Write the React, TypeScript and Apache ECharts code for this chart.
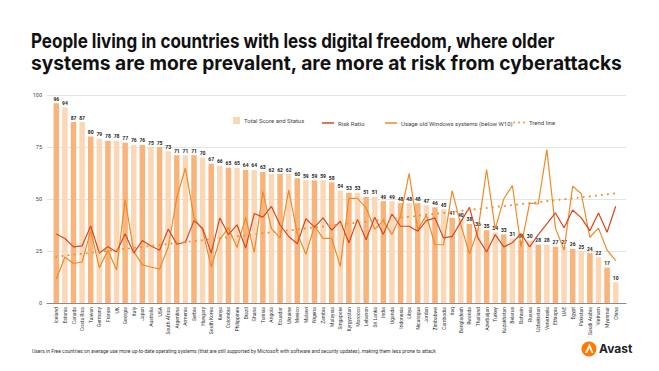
import React, { useEffect, useRef } from "react";
import * as echarts from "echarts";

const categories = [
  "Iceland", "Estonia", "Canada", "Costa Rica", "Taiwan", "Germany", "France", "UK", "Georgia", "Italy",
  "Japan", "Australia", "USA", "South Africa", "Argentina", "Armenia", "Serbia", "Hungary", "South Korea", "Kenya",
  "Colombia", "Philippines", "Brazil", "Ghana", "Tunisia", "Angola", "Ecuador", "Ukraine", "Mexico", "Malawi",
  "Nigeria", "Zambia", "Malaysia", "Singapore", "Kyrgyzstan", "Morocco", "Lebanon", "Sri Lanka", "India", "Uganda",
  "Indonesia", "Libya", "Nicaragua", "Jordan", "Zimbabwe", "Cambodia", "Iraq", "Bangladesh", "Rwanda", "Thailand",
  "Azerbaijan", "Turkey", "Kazakhstan", "Belarus", "Bahrain", "Russia", "Uzbekistan", "Venezuela", "Ethiopia", "UAE",
  "Egypt", "Pakistan", "Saudi Arabia", "Vietnam", "Myanmar", "China",
];

const totalScore = [
  96, 94, 87, 87, 80, 79, 78, 78, 77, 76,
  76, 75, 75, 73, 71, 71, 71, 70, 67, 66,
  65, 65, 64, 64, 63, 62, 62, 62, 60, 59,
  59, 59, 58, 54, 53, 53, 51, 51, 49, 49,
  48, 48, 48, 47, 46, 45, 41, 40, 38, 36,
  35, 34, 33, 31, 30, 30, 28, 28, 27, 27,
  26, 25, 24, 22, 17, 10,
];

const riskRatio = [
  33.2, 31, 27, 27.5, 37, 24, 27, 24.5, 33.3, 24,
  30, 27.4, 25.4, 35.5, 28.3, 29.2, 39.6, 36, 24, 40.9,
  32.9, 37.6, 26.4, 43, 41.3, 46.4, 37.5, 32, 28.5, 40.5,
  36.5, 40.9, 35, 39.3, 29, 40.2, 30.4, 41.2, 33, 42.8,
  36.9, 36.9, 34.5, 39.6, 40.9, 31.3, 32, 39, 46, 31.3,
  24.5, 32.9, 27, 29, 33.3, 27, 32.9, 38, 43.3, 36.2,
  44.7, 40.9, 34.8, 43.3, 34, 46.5,
];

const oldWindowsUsage = [
  11.5, 22.1, 19, 19.7, 34.8, 17, 25.3, 15.9, 49.7, 24.8,
  18.3, 17.3, 16.3, 26.8, 50.6, 64.9, 41, 35, 17.3, 30.5,
  36.3, 26.7, 41.2, 24.3, 53.6, 35.8, 31.3, 54.3, 33.5, 23.4,
  37, 31.1, 31.1, 17.6, 50.3, 50.3, 45.7, 35.5, 39.6, 32.9,
  42, 62.3, 35.3, 42.2, 28, 28, 54, 37.7, 23.6, 35,
  64.2, 35.6, 50.1, 56.5, 27.1, 48, 47.6, 73.7, 36, 25.5,
  56.2, 52.5, 31.6, 36, 25.4, 20.4,
];

// Trend line end points (first and last category)
const trendStart = 22.3;
const trendEnd = 52.7;

const yTicks = [0, 25, 50, 75, 100];

const titleLines = [
  "People living in countries with less digital freedom, where older",
  "systems are more prevalent, are more at risk from cyberattacks",
];
const footnote =
  "Users in Free countries on average use more up-to-date operating systems (that are still supported by Microsoft with software and security updates), making them less prone to attack";

const DARK_BAR = "#f9b47c";
const LIGHT_BAR = "#fcd7b6";
const RISK = "#d9471e";
const USAGE = "#f08a26";
const TREND = "#f0913a";
const FONT = "Roboto, 'Liberation Sans', sans-serif";
const TITLE_FONT = "Inter, 'Open Sans', sans-serif";
const DOTS_ICON =
  "path://M0,1a1,1 0 1,0 2,0a1,1 0 1,0 -2,0zM5,1a1,1 0 1,0 2,0a1,1 0 1,0 -2,0zM10,1a1,1 0 1,0 2,0a1,1 0 1,0 -2,0z";

export default function App() {
  const ref = useRef<HTMLDivElement>(null);

  useEffect(() => {
    if (!ref.current) return;
    const chart = echarts.init(ref.current, null, { renderer: "svg" });
    const last = categories.length - 1;
    const trendData = categories.map((_, i) => (i === 0 ? trendStart : i === last ? trendEnd : null));

    const legendBase = {
      top: 120,
      padding: 0,
      itemWidth: 12,
      itemHeight: 1.5,
      itemGap: 0,
      textStyle: { fontSize: 6, color: "#444", fontFamily: FONT, padding: [0, 0, 0, -1] },
      selectedMode: false,
    };

    chart.setOption({
      animation: false,
      backgroundColor: "#ffffff",
      textStyle: { fontFamily: FONT },
      legend: [
        { ...legendBase, top: 117, left: 233, data: [{ name: "Total Score and Status", icon: "rect" }], itemWidth: 7, itemHeight: 7 },
        { ...legendBase, left: 322, data: [{ name: "Risk Ratio", icon: "rect" }] },
        { ...legendBase, left: 385, data: [{ name: "Usage old Windows systems (below W10)", icon: "rect" }] },
        { ...legendBase, top: 119.5, left: 513, itemHeight: 2, data: [{ name: "Trend line", icon: DOTS_ICON }] },
      ],
      grid: [
        { left: 47, right: 33, top: 95, bottom: 68 },
        { left: 52, right: 39, top: 95, bottom: 68 },
      ],
      xAxis: [
        {
          gridIndex: 0,
          type: "category",
          data: categories,
          axisLine: { lineStyle: { color: "#8a8a8a", width: 1 } },
          axisTick: { show: false },
          axisLabel: { show: false },
        },
        {
          gridIndex: 1,
          type: "category",
          data: categories,
          axisLine: { show: false },
          axisTick: { show: false },
          axisLabel: { rotate: 90, interval: 0, fontSize: 5, color: "#333", margin: 4, fontFamily: FONT },
        },
      ],
      yAxis: [
        {
          gridIndex: 0,
          type: "value",
          min: yTicks[0],
          max: yTicks[yTicks.length - 1],
          interval: 25,
          axisLine: { show: false },
          axisTick: { show: false },
          axisLabel: { fontSize: 5.5, color: "#444", margin: 5, fontFamily: FONT },
          splitLine: { lineStyle: { color: "#e4e4e4", width: 1 } },
        },
        {
          gridIndex: 1,
          type: "value",
          min: yTicks[0],
          max: yTicks[yTicks.length - 1],
          interval: 25,
          show: false,
          splitLine: { show: false },
        },
      ],
      series: [
        {
          name: "Total Score and Status",
          type: "bar",
          xAxisIndex: 1,
          yAxisIndex: 1,
          barWidth: "64%",
          itemStyle: { color: LIGHT_BAR },
          data: totalScore.map((v, i) => ({ value: v, itemStyle: { color: i % 2 === 0 ? DARK_BAR : LIGHT_BAR } })),
          label: {
            show: true,
            position: "top",
            distance: 2,
            fontSize: 5,
            fontWeight: "bold",
            color: "#222",
            fontFamily: FONT,
          },
          z: 1,
        },
        {
          name: "Risk Ratio",
          type: "line",
          xAxisIndex: 1,
          yAxisIndex: 1,
          data: riskRatio,
          symbol: "none",
          lineStyle: { color: RISK, width: 1.2 },
          itemStyle: { color: RISK },
          z: 4,
        },
        {
          name: "Usage old Windows systems (below W10)",
          type: "line",
          xAxisIndex: 1,
          yAxisIndex: 1,
          data: oldWindowsUsage,
          symbol: "none",
          lineStyle: { color: USAGE, width: 1.2 },
          itemStyle: { color: USAGE },
          z: 3,
        },
        {
          name: "Trend line",
          type: "line",
          xAxisIndex: 1,
          yAxisIndex: 1,
          data: trendData,
          connectNulls: true,
          symbol: "none",
          lineStyle: { color: TREND, width: 2, type: [0.1, 6], cap: "round" },
          itemStyle: { color: TREND },
          z: 5,
        },
      ],
      graphic: [
        {
          type: "text",
          x: 31,
          y: 40,
          scaleX: 0.85,
          style: {
            text: titleLines[0],
            fontSize: 20,
            fontWeight: "bold",
            fontFamily: TITLE_FONT,
            fill: "#111111",
            verticalAlign: "middle",
          },
        },
        {
          type: "text",
          x: 31,
          y: 63,
          scaleX: 0.96,
          style: {
            text: titleLines[1],
            fontSize: 20,
            fontWeight: "bold",
            fontFamily: TITLE_FONT,
            fill: "#111111",
            verticalAlign: "middle",
          },
        },
        {
          type: "text",
          left: 32,
          top: 348,
          style: { text: footnote, fontSize: 5, fill: "#333", fontFamily: FONT },
        },
        {
          type: "circle",
          shape: { cx: 589, cy: 349, r: 7.5 },
          style: { fill: "#ff7a00" },
        },
        {
          type: "polygon",
          shape: { points: [[585, 353], [589.5, 343.5], [593.5, 353], [591.5, 353], [589.5, 348], [587, 353]] },
          style: { fill: "#ffffff" },
        },
        {
          type: "text",
          left: 599,
          top: 342,
          style: { text: "Avast", fontSize: 12, fontWeight: "bold", fill: "#222", fontFamily: TITLE_FONT },
        },
      ],
    });

    return () => chart.dispose();
  }, []);

  return <div ref={ref} style={{ width: 659, height: 371, position: "absolute", left: 0, top: 0 }} />;
}
